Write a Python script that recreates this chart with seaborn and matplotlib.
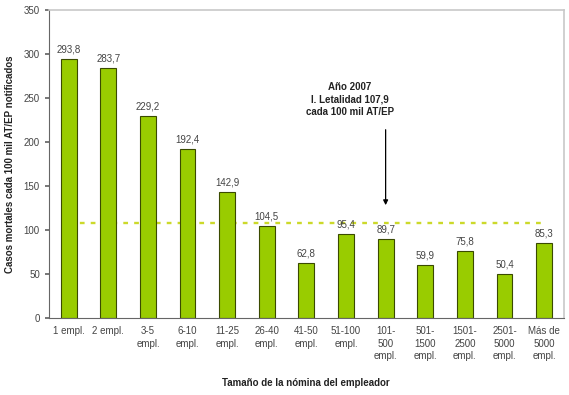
import numpy as np
import pandas as pd
import matplotlib
matplotlib.use("Agg")
import matplotlib.pyplot as plt
import seaborn as sns

# data
categorias = ["1 empl.", "2 empl.", "3-5\nempl.", "6-10\nempl.", "11-25\nempl.",
              "26-40\nempl.", "41-50\nempl.", "51-100\nempl.", "101-\n500\nempl.",
              "501-\n1500\nempl.", "1501-\n2500\nempl.", "2501-\n5000\nempl.",
              "Más de\n5000\nempl."]
valores = [293.8, 283.7, 229.2, 192.4, 142.9, 104.5, 62.8, 95.4, 89.7, 59.9, 75.8, 50.4, 85.3]
letalidad = 107.9
y_ticks = [0, 50, 100, 150, 200, 250, 300, 350]

sns.set_theme(style="white")
plt.rcParams['font.family'] = ['Liberation Sans', 'DejaVu Sans']

data = pd.DataFrame({"Tamano": categorias, "Casos": valores})

fig = plt.figure(figsize=(5.69, 3.95), dpi=100)
ax = fig.add_axes([0.086, 0.195, 0.905, 0.78])

# average line (behind the bars)
ax.plot([0, len(valores) - 1], [letalidad, letalidad], linestyle=(0, (2, 2.6)),
        color="#ccd92a", linewidth=1.7, zorder=1)

sns.barplot(data=data, x="Tamano", y="Casos", color="#99cc00", width=0.4,
            edgecolor="#3a4a00", linewidth=0.8, saturation=1, ax=ax, zorder=2)

# value labels
for i, v in enumerate(valores):
    ax.text(i, v + 5, f"{v:.1f}".replace(".", ","), ha="center", va="bottom",
            fontsize=7, color="#444444")

# annotation
ax.text(7.1, 248, "Año 2007\nI. Letalidad 107,9\ncada 100 mil AT/EP", ha="center",
        va="center", fontsize=7, fontweight="bold", color="#222222", linespacing=1.3)
ax.annotate("", xy=(8, 125), xytext=(8, 217),
            arrowprops=dict(arrowstyle="-|>", color="black", lw=0.9, mutation_scale=7))

ax.set_ylim(0, 350)
ax.set_xlim(-0.5, len(valores) - 0.5)
ax.set_yticks(y_ticks)
ax.set_yticklabels([str(t) for t in y_ticks], fontsize=7, color="#444444")
ax.set_xticks(np.arange(len(valores)) - 0.5, minor=True)
ax.set_xticklabels(categorias, fontsize=7, color="#444444", linespacing=1.3)
ax.tick_params(axis="x", which="major", length=0, pad=6)
ax.tick_params(axis="x", which="minor", length=3, color="#666666", direction="out")
ax.tick_params(axis="y", length=3, color="#666666", direction="out", left=True)

ax.set_xlabel("")
fig.text(306 / 569, 1 - 383 / 395, "Tamaño de la nómina del empleador", fontsize=7,
         fontweight="bold", ha="center", va="center", color="#222222")
ax.set_ylabel("Casos mortales cada 100 mil AT/EP notificados", fontsize=7,
              fontweight="bold", labelpad=6, color="#222222")

for s in ["top", "right"]:
    ax.spines[s].set_color("#c8c8c8")
    ax.spines[s].set_linewidth(1.2)
ax.spines["left"].set_color("#666666")
ax.spines["bottom"].set_color("#666666")
ax.spines["left"].set_linewidth(0.8)
ax.spines["bottom"].set_linewidth(0.8)

fig.savefig("out.png", dpi=100)
